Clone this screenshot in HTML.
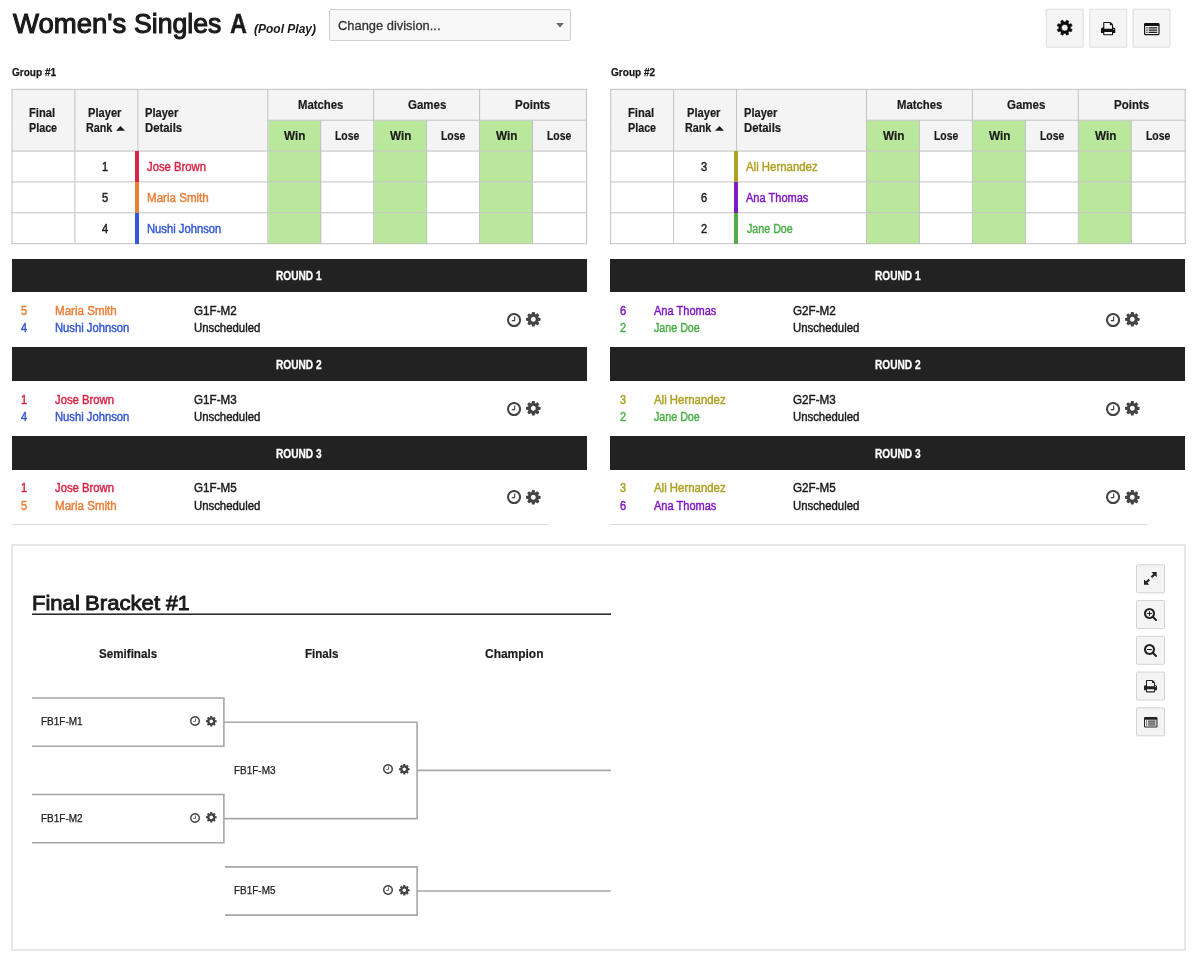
<!DOCTYPE html>
<html lang="en"><head><meta charset="utf-8"><title>Women's Singles A (Pool Play)</title>
<style>
*{box-sizing:border-box;margin:0;padding:0}
html,body{width:1200px;height:963px;background:#fff;overflow:hidden}
body{position:relative;font-family:"Liberation Sans",sans-serif;color:#1b1b1b;font-size:12px}
h1,h2{font-size:inherit;font-weight:inherit}
.ic{position:absolute;display:block;overflow:visible}
.t{position:absolute;white-space:nowrap;transform-origin:0 0;line-height:1;display:block}
.bx{position:absolute;display:block}
.btn{position:absolute;background:#f4f4f4;border:1px solid #e3e3e3;border-radius:2px}
.grid{position:absolute;border-collapse:collapse;table-layout:fixed;transform-origin:0 0}
.grid td,.grid th{border:1px solid #c2c2c2;height:31px;padding:0}
.grid th{background:#f4f4f4}
.grid .g{background:#b9e89c}
.bar{position:absolute;height:33.4px;background:#222;width:575px}
.ln{position:absolute;background:#aaa}
</style></head><body>
<h1><span class="t" style="left:13.12px;top:10px;transform:scaleX(0.9902);font-size:27.8px;-webkit-text-stroke:1.1px;color:#1a1a1a">Women's</span>
<span class="t" style="left:134.3px;top:10px;transform:scaleX(0.9576);font-size:27.8px;-webkit-text-stroke:1.1px;color:#1a1a1a">Singles</span>
<span class="t" style="left:229.99px;top:9px;transform:scaleX(0.8256);font-size:28.4px;font-weight:bold;-webkit-text-stroke:0.4px;color:#1a1a1a">A</span>
</h1><span class="t" style="left:253.53px;top:23px;transform:scaleX(0.9992);font-size:12px;font-weight:bold;font-style:italic;color:#1a1a1a">(Pool Play)</span>
<div class="bx" style="left:329px;top:8.7px;width:241.5px;height:32px;border:1px solid #cfcfcf;border-radius:2px;background:#f8f8f8"></div>
<span class="t" style="left:337.72px;top:19px;transform:scaleX(0.9551);font-size:13.5px;color:#333;-webkit-text-stroke:0.3px">Change division...</span>
<svg class="ic" style="left:556.2px;top:23.2px;width:8px;height:4.5px" viewBox="0 0 8 4.5"><path fill="#6a6a6a" d="M0 0h8L4 4.5z"/></svg>
<div class="btn" style="left:1046px;top:9px;width:38px;height:38.6px;transform:translate(-0.3px,-0.3px);border-radius:1px;border-color:#dcdcdc;background:#f5f5f5"></div>
<div class="btn" style="left:1089px;top:9px;width:38px;height:38.6px;transform:translate(0.3px,-0.3px);border-radius:1px;border-color:#dcdcdc;background:#f5f5f5"></div>
<div class="btn" style="left:1133px;top:9px;width:38px;height:38.6px;transform:translate(-0.5px,-0.3px);border-radius:1px;border-color:#dcdcdc;background:#f5f5f5"></div>
<svg class="ic" style="left:1056.1px;top:19.1px;width:17.4px;height:17.4px" viewBox="-8.7 -8.7 17.4 17.4"><path fill="#0c0c0c" fill-rule="evenodd" stroke="#0c0c0c" stroke-width="0.6" stroke-linejoin="round" d="M0.74 -5.65L1.86 -7.47L3.97 -6.6L3.47 -4.52L4.52 -3.47L6.6 -3.97L7.47 -1.86L5.65 -0.74L5.65 0.74L7.47 1.86L6.6 3.97L4.52 3.47L3.47 4.52L3.97 6.6L1.86 7.47L0.74 5.65L-0.74 5.65L-1.86 7.47L-3.97 6.6L-3.47 4.52L-4.52 3.47L-6.6 3.97L-7.47 1.86L-5.65 0.74L-5.65 -0.74L-7.47 -1.86L-6.6 -3.97L-4.52 -3.47L-3.47 -4.52L-3.97 -6.6L-1.86 -7.47L-0.74 -5.65ZM3.31 0A3.31 3.31 0 1 0 -3.31 0A3.31 3.31 0 1 0 3.31 0Z"/></svg>
<svg class="ic" style="left:1101px;top:21.6px;width:14.3px;height:13.3px" viewBox="0 0 1664 1536" preserveAspectRatio="none"><path fill="#111" d="M384 1408h896v-256h-896v256zm0-640h896v-384h-160q-40 0-68-28t-28-68v-160h-640v640zm1152 64q0-26-19-45t-45-19-45 19-19 45 19 45 45 19 45-19 19-45zm128 0v416q0 13-9.5 22.5t-22.5 9.5h-224v160q0 40-28 68t-68 28h-960q-40 0-68-28t-28-68v-160h-224q-13 0-22.5-9.5t-9.5-22.5v-416q0-79 56.5-135.5t135.5-56.5h64v-544q0-40 28-68t68-28h672q40 0 88 20t76 48l152 152q28 28 48 76t20 88v256h64q79 0 135.5 56.5t56.5 135.5z"/></svg>
<svg class="ic" style="left:1144px;top:22.6px;width:15.6px;height:12.3px" viewBox="0 0 16 12" preserveAspectRatio="none"><path fill="#111" fill-rule="evenodd" d="M1.4 0h13.2A1.4 1.4 0 0 1 16 1.4v9.2a1.4 1.4 0 0 1-1.4 1.4H1.4A1.4 1.4 0 0 1 0 10.6V1.4A1.4 1.4 0 0 1 1.4 0zM1.2 3v7.4a.4.4 0 0 0 .4.4h12.8a.4.4 0 0 0 .4-.4V3z"/><rect fill="#111" x="2.4" y="4.1" width="1.3" height="1.2"/><rect fill="#111" x="4.8" y="4.1" width="8.8" height="1.2"/><rect fill="#111" x="2.4" y="6.3" width="1.3" height="1.2"/><rect fill="#111" x="4.8" y="6.3" width="8.8" height="1.2"/><rect fill="#111" x="2.4" y="8.5" width="1.3" height="1.2"/><rect fill="#111" x="4.8" y="8.5" width="8.8" height="1.2"/></svg>
<span class="t" style="left:12.06px;top:67px;transform:scaleX(0.8969);font-size:11.2px;font-weight:bold;color:#1a1a1a;-webkit-text-stroke:0.25px">Group #1</span>
<table class="grid" style="left:12px;top:89px;width:575px;transform:translate(-0.5px,-0.15px) scale(0.9991,0.9955)"><colgroup><col style="width:63px"><col style="width:63px"><col style="width:130px"><col style="width:53px"><col style="width:53px"><col style="width:53px"><col style="width:53px"><col style="width:53px"><col style="width:54px"></colgroup>
<thead><tr><th rowspan="2"></th><th rowspan="2"></th><th rowspan="2"></th><th colspan="2"></th><th colspan="2"></th><th colspan="2"></th></tr>
<tr><th class="g"></th><th></th><th class="g"></th><th></th><th class="g"></th><th></th></tr></thead>
<tbody><tr><td></td><td></td><td></td><td class="g"></td><td></td><td class="g"></td><td></td><td class="g"></td><td></td></tr>
<tr><td></td><td></td><td></td><td class="g"></td><td></td><td class="g"></td><td></td><td class="g"></td><td></td></tr>
<tr><td></td><td></td><td></td><td class="g"></td><td></td><td class="g"></td><td></td><td class="g"></td><td></td></tr>
</tbody></table>
<span class="t" style="left:29.33px;top:107px;transform:scaleX(0.8941);font-size:12.5px;font-weight:bold;-webkit-text-stroke:0.2px">Final</span>
<span class="t" style="left:29.35px;top:122px;transform:scaleX(0.8601);font-size:12.5px;font-weight:bold;-webkit-text-stroke:0.2px">Place</span>
<span class="t" style="left:87.93px;top:107px;transform:scaleX(0.8901);font-size:12.5px;font-weight:bold;-webkit-text-stroke:0.2px">Player</span>
<span class="t" style="left:85.95px;top:122px;transform:scaleX(0.86);font-size:12.5px;font-weight:bold;-webkit-text-stroke:0.2px">Rank</span>
<svg class="ic" style="left:116.2px;top:126px;width:9px;height:4.7px" viewBox="0 0 9 4.7"><path fill="#1b1b1b" d="M0 4.7h9L4.5 0z"/></svg>
<span class="t" style="left:145.43px;top:107px;transform:scaleX(0.8874);font-size:12.5px;font-weight:bold;-webkit-text-stroke:0.2px">Player</span>
<span class="t" style="left:145.42px;top:122px;transform:scaleX(0.9053);font-size:12.5px;font-weight:bold;-webkit-text-stroke:0.2px">Details</span>
<span class="t" style="left:298.02px;top:99px;transform:scaleX(0.9084);font-size:12.5px;font-weight:bold;-webkit-text-stroke:0.2px">Matches</span>
<span class="t" style="left:284.12px;top:130px;transform:scaleX(0.9393);font-size:12.5px;font-weight:bold;-webkit-text-stroke:0.2px">Win</span>
<span class="t" style="left:335.18px;top:130px;transform:scaleX(0.832);font-size:12.5px;font-weight:bold;-webkit-text-stroke:0.2px">Lose</span>
<span class="t" style="left:407.85px;top:99px;transform:scaleX(0.92);font-size:12.5px;font-weight:bold;-webkit-text-stroke:0.2px">Games</span>
<span class="t" style="left:390.12px;top:130px;transform:scaleX(0.9393);font-size:12.5px;font-weight:bold;-webkit-text-stroke:0.2px">Win</span>
<span class="t" style="left:441.18px;top:130px;transform:scaleX(0.832);font-size:12.5px;font-weight:bold;-webkit-text-stroke:0.2px">Lose</span>
<span class="t" style="left:515.29px;top:99px;transform:scaleX(0.92);font-size:12.5px;font-weight:bold;-webkit-text-stroke:0.2px">Points</span>
<span class="t" style="left:496.12px;top:130px;transform:scaleX(0.9393);font-size:12.5px;font-weight:bold;-webkit-text-stroke:0.2px">Win</span>
<span class="t" style="left:547.18px;top:130px;transform:scaleX(0.832);font-size:12.5px;font-weight:bold;-webkit-text-stroke:0.2px">Lose</span>
<div class="bx" style="left:135.2px;top:150.9px;width:4.3px;height:31px;background:#d92648"></div>
<span class="t" style="left:102.1px;top:162px;transform:scaleX(0.93);font-size:11.9px;-webkit-text-stroke:0.45px;color:#222">1</span>
<span class="t" style="left:147.3px;top:161px;transform:scaleX(0.9194);font-size:12.3px;-webkit-text-stroke:0.45px;color:#d92648">Jose Brown</span>
<div class="bx" style="left:135.2px;top:181.76px;width:4.3px;height:31px;background:#e8813a"></div>
<span class="t" style="left:102.22px;top:193px;transform:scaleX(0.93);font-size:11.9px;-webkit-text-stroke:0.45px;color:#222">5</span>
<span class="t" style="left:147.19px;top:192px;transform:scaleX(0.9416);font-size:12.3px;-webkit-text-stroke:0.45px;color:#e8813a">Maria Smith</span>
<div class="bx" style="left:135.2px;top:212.62px;width:4.3px;height:31.2px;background:#3558d6"></div>
<span class="t" style="left:102.28px;top:224px;transform:scaleX(0.93);font-size:11.9px;-webkit-text-stroke:0.45px;color:#222">4</span>
<span class="t" style="left:147.22px;top:223px;transform:scaleX(0.9125);font-size:12.3px;-webkit-text-stroke:0.45px;color:#3558d6">Nushi Johnson</span>
<div class="bar" style="left:12px;top:258.6px"></div>
<span class="t" style="left:275.87px;top:271px;transform:scaleX(0.8512);font-size:11.9px;font-weight:bold;color:#fff;-webkit-text-stroke:0.3px">ROUND 1</span>
<span class="t" style="left:20.82px;top:306px;transform:scaleX(0.93);font-size:11.9px;-webkit-text-stroke:0.45px;color:#e8813a">5</span>
<span class="t" style="left:54.99px;top:305px;transform:scaleX(0.9416);font-size:12.3px;-webkit-text-stroke:0.45px;color:#e8813a">Maria Smith</span>
<span class="t" style="left:20.88px;top:323px;transform:scaleX(0.93);font-size:11.9px;-webkit-text-stroke:0.45px;color:#3558d6">4</span>
<span class="t" style="left:55.02px;top:322px;transform:scaleX(0.9125);font-size:12.3px;-webkit-text-stroke:0.45px;color:#3558d6">Nushi Johnson</span>
<span class="t" style="left:194.45px;top:305px;transform:scaleX(0.9465);font-size:12.3px;-webkit-text-stroke:0.45px">G1F-M2</span>
<span class="t" style="left:194.21px;top:322px;transform:scaleX(0.9234);font-size:12.3px;-webkit-text-stroke:0.45px">Unscheduled</span>
<svg class="ic" style="left:507px;top:312.7px;width:14.1px;height:14.1px" viewBox="0 0 1536 1536" preserveAspectRatio="none"><path fill="#444" d="M896 416v448q0 14-9 23t-23 9h-320q-14 0-23-9t-9-23v-64q0-14 9-23t23-9h224v-352q0-14 9-23t23-9h64q14 0 23 9t9 23zm416 352q0-148-73-273t-198-198-273-73-273 73-198 198-73 273 73 273 198 198 273 73 273-73 198-198 73-273zm224 0q0 209-103 385.5t-279.5 279.5-385.5 103-385.5-103-279.5-279.5-103-385.5 103-385.5 279.5-279.5 385.5-103 385.5 103 279.5 279.5 103 385.5z"/></svg>
<svg class="ic" style="left:526px;top:312.45px;width:14.6px;height:14.6px" viewBox="0 -128 1536 1536" preserveAspectRatio="none"><path fill="#444" d="M1024 640q0-106-75-181t-181-75-181 75-75 181 75 181 181 75 181-75 75-181zm512-109v222q0 12-8 23t-20 13l-185 28q-19 54-39 91 35 50 107 138 10 12 10 25t-9 23q-27 37-99 108t-94 71q-12 0-26-9l-138-108q-44 23-91 38-16 136-29 186-7 28-36 28h-222q-14 0-24.5-8.5t-11.5-21.5l-28-184q-49-16-90-37l-141 107q-10 9-25 9-14 0-25-11-126-114-165-168-7-10-7-23 0-12 8-23 15-21 51-66.5t54-70.5q-27-50-41-99l-183-27q-13-2-21-12.5t-8-23.5v-222q0-12 8-23t19-13l186-28q14-46 39-92-40-57-107-138-10-12-10-24 0-10 9-23 26-36 98.5-107.5t94.5-71.5q13 0 26 10l138 107q44-23 91-38 16-136 29-186 7-28 36-28h222q14 0 24.5 8.5t11.5 21.5l28 184q49 16 90 37l142-107q9-9 24-9 13 0 25 10 129 119 165 170 7 8 7 22 0 12-8 23-15 21-51 66.5t-54 70.5q26 50 41 98l183 28q13 2 21 12.5t8 23.5z"/></svg>
<div class="bar" style="left:12px;top:347.4px"></div>
<span class="t" style="left:275.87px;top:360px;transform:scaleX(0.8532);font-size:11.9px;font-weight:bold;color:#fff;-webkit-text-stroke:0.3px">ROUND 2</span>
<span class="t" style="left:20.7px;top:395px;transform:scaleX(0.93);font-size:11.9px;-webkit-text-stroke:0.45px;color:#d92648">1</span>
<span class="t" style="left:55.1px;top:394px;transform:scaleX(0.9194);font-size:12.3px;-webkit-text-stroke:0.45px;color:#d92648">Jose Brown</span>
<span class="t" style="left:20.88px;top:412px;transform:scaleX(0.93);font-size:11.9px;-webkit-text-stroke:0.45px;color:#3558d6">4</span>
<span class="t" style="left:55.02px;top:411px;transform:scaleX(0.9125);font-size:12.3px;-webkit-text-stroke:0.45px;color:#3558d6">Nushi Johnson</span>
<span class="t" style="left:194.45px;top:394px;transform:scaleX(0.9465);font-size:12.3px;-webkit-text-stroke:0.45px">G1F-M3</span>
<span class="t" style="left:194.21px;top:411px;transform:scaleX(0.9234);font-size:12.3px;-webkit-text-stroke:0.45px">Unscheduled</span>
<svg class="ic" style="left:507px;top:401.5px;width:14.1px;height:14.1px" viewBox="0 0 1536 1536" preserveAspectRatio="none"><path fill="#444" d="M896 416v448q0 14-9 23t-23 9h-320q-14 0-23-9t-9-23v-64q0-14 9-23t23-9h224v-352q0-14 9-23t23-9h64q14 0 23 9t9 23zm416 352q0-148-73-273t-198-198-273-73-273 73-198 198-73 273 73 273 198 198 273 73 273-73 198-198 73-273zm224 0q0 209-103 385.5t-279.5 279.5-385.5 103-385.5-103-279.5-279.5-103-385.5 103-385.5 279.5-279.5 385.5-103 385.5 103 279.5 279.5 103 385.5z"/></svg>
<svg class="ic" style="left:526px;top:401.25px;width:14.6px;height:14.6px" viewBox="0 -128 1536 1536" preserveAspectRatio="none"><path fill="#444" d="M1024 640q0-106-75-181t-181-75-181 75-75 181 75 181 181 75 181-75 75-181zm512-109v222q0 12-8 23t-20 13l-185 28q-19 54-39 91 35 50 107 138 10 12 10 25t-9 23q-27 37-99 108t-94 71q-12 0-26-9l-138-108q-44 23-91 38-16 136-29 186-7 28-36 28h-222q-14 0-24.5-8.5t-11.5-21.5l-28-184q-49-16-90-37l-141 107q-10 9-25 9-14 0-25-11-126-114-165-168-7-10-7-23 0-12 8-23 15-21 51-66.5t54-70.5q-27-50-41-99l-183-27q-13-2-21-12.5t-8-23.5v-222q0-12 8-23t19-13l186-28q14-46 39-92-40-57-107-138-10-12-10-24 0-10 9-23 26-36 98.5-107.5t94.5-71.5q13 0 26 10l138 107q44-23 91-38 16-136 29-186 7-28 36-28h222q14 0 24.5 8.5t11.5 21.5l28 184q49 16 90 37l142-107q9-9 24-9 13 0 25 10 129 119 165 170 7 8 7 22 0 12-8 23-15 21-51 66.5t-54 70.5q26 50 41 98l183 28q13 2 21 12.5t8 23.5z"/></svg>
<div class="bar" style="left:12px;top:436.2px"></div>
<span class="t" style="left:275.87px;top:449px;transform:scaleX(0.8532);font-size:11.9px;font-weight:bold;color:#fff;-webkit-text-stroke:0.3px">ROUND 3</span>
<span class="t" style="left:20.7px;top:483px;transform:scaleX(0.93);font-size:11.9px;-webkit-text-stroke:0.45px;color:#d92648">1</span>
<span class="t" style="left:55.1px;top:482px;transform:scaleX(0.9194);font-size:12.3px;-webkit-text-stroke:0.45px;color:#d92648">Jose Brown</span>
<span class="t" style="left:20.82px;top:501px;transform:scaleX(0.93);font-size:11.9px;-webkit-text-stroke:0.45px;color:#e8813a">5</span>
<span class="t" style="left:54.99px;top:500px;transform:scaleX(0.9416);font-size:12.3px;-webkit-text-stroke:0.45px;color:#e8813a">Maria Smith</span>
<span class="t" style="left:194.45px;top:482px;transform:scaleX(0.9465);font-size:12.3px;-webkit-text-stroke:0.45px">G1F-M5</span>
<span class="t" style="left:194.21px;top:500px;transform:scaleX(0.9234);font-size:12.3px;-webkit-text-stroke:0.45px">Unscheduled</span>
<svg class="ic" style="left:507px;top:490.3px;width:14.1px;height:14.1px" viewBox="0 0 1536 1536" preserveAspectRatio="none"><path fill="#444" d="M896 416v448q0 14-9 23t-23 9h-320q-14 0-23-9t-9-23v-64q0-14 9-23t23-9h224v-352q0-14 9-23t23-9h64q14 0 23 9t9 23zm416 352q0-148-73-273t-198-198-273-73-273 73-198 198-73 273 73 273 198 198 273 73 273-73 198-198 73-273zm224 0q0 209-103 385.5t-279.5 279.5-385.5 103-385.5-103-279.5-279.5-103-385.5 103-385.5 279.5-279.5 385.5-103 385.5 103 279.5 279.5 103 385.5z"/></svg>
<svg class="ic" style="left:526px;top:490.05px;width:14.6px;height:14.6px" viewBox="0 -128 1536 1536" preserveAspectRatio="none"><path fill="#444" d="M1024 640q0-106-75-181t-181-75-181 75-75 181 75 181 181 75 181-75 75-181zm512-109v222q0 12-8 23t-20 13l-185 28q-19 54-39 91 35 50 107 138 10 12 10 25t-9 23q-27 37-99 108t-94 71q-12 0-26-9l-138-108q-44 23-91 38-16 136-29 186-7 28-36 28h-222q-14 0-24.5-8.5t-11.5-21.5l-28-184q-49-16-90-37l-141 107q-10 9-25 9-14 0-25-11-126-114-165-168-7-10-7-23 0-12 8-23 15-21 51-66.5t54-70.5q-27-50-41-99l-183-27q-13-2-21-12.5t-8-23.5v-222q0-12 8-23t19-13l186-28q14-46 39-92-40-57-107-138-10-12-10-24 0-10 9-23 26-36 98.5-107.5t94.5-71.5q13 0 26 10l138 107q44-23 91-38 16-136 29-186 7-28 36-28h222q14 0 24.5 8.5t11.5 21.5l28 184q49 16 90 37l142-107q9-9 24-9 13 0 25 10 129 119 165 170 7 8 7 22 0 12-8 23-15 21-51 66.5t-54 70.5q26 50 41 98l183 28q13 2 21 12.5t8 23.5z"/></svg>
<div class="bx" style="left:12px;top:524px;width:536.5px;height:1px;background:#dcdcdc"></div>
<span class="t" style="left:611.06px;top:67px;transform:scaleX(0.8992);font-size:11.2px;font-weight:bold;color:#1a1a1a;-webkit-text-stroke:0.25px">Group #2</span>
<table class="grid" style="left:611px;top:89px;width:575px;transform:translate(-0.8px,-0.15px) scale(0.9991,0.9955)"><colgroup><col style="width:63px"><col style="width:63px"><col style="width:130px"><col style="width:53px"><col style="width:53px"><col style="width:53px"><col style="width:53px"><col style="width:53px"><col style="width:54px"></colgroup>
<thead><tr><th rowspan="2"></th><th rowspan="2"></th><th rowspan="2"></th><th colspan="2"></th><th colspan="2"></th><th colspan="2"></th></tr>
<tr><th class="g"></th><th></th><th class="g"></th><th></th><th class="g"></th><th></th></tr></thead>
<tbody><tr><td></td><td></td><td></td><td class="g"></td><td></td><td class="g"></td><td></td><td class="g"></td><td></td></tr>
<tr><td></td><td></td><td></td><td class="g"></td><td></td><td class="g"></td><td></td><td class="g"></td><td></td></tr>
<tr><td></td><td></td><td></td><td class="g"></td><td></td><td class="g"></td><td></td><td class="g"></td><td></td></tr>
</tbody></table>
<span class="t" style="left:628.33px;top:107px;transform:scaleX(0.8941);font-size:12.5px;font-weight:bold;-webkit-text-stroke:0.2px">Final</span>
<span class="t" style="left:628.35px;top:122px;transform:scaleX(0.8601);font-size:12.5px;font-weight:bold;-webkit-text-stroke:0.2px">Place</span>
<span class="t" style="left:686.93px;top:107px;transform:scaleX(0.8901);font-size:12.5px;font-weight:bold;-webkit-text-stroke:0.2px">Player</span>
<span class="t" style="left:684.96px;top:122px;transform:scaleX(0.86);font-size:12.5px;font-weight:bold;-webkit-text-stroke:0.2px">Rank</span>
<svg class="ic" style="left:715.2px;top:126px;width:9px;height:4.7px" viewBox="0 0 9 4.7"><path fill="#1b1b1b" d="M0 4.7h9L4.5 0z"/></svg>
<span class="t" style="left:744.43px;top:107px;transform:scaleX(0.8874);font-size:12.5px;font-weight:bold;-webkit-text-stroke:0.2px">Player</span>
<span class="t" style="left:744.42px;top:122px;transform:scaleX(0.9053);font-size:12.5px;font-weight:bold;-webkit-text-stroke:0.2px">Details</span>
<span class="t" style="left:897.02px;top:99px;transform:scaleX(0.9084);font-size:12.5px;font-weight:bold;-webkit-text-stroke:0.2px">Matches</span>
<span class="t" style="left:883.12px;top:130px;transform:scaleX(0.9393);font-size:12.5px;font-weight:bold;-webkit-text-stroke:0.2px">Win</span>
<span class="t" style="left:934.18px;top:130px;transform:scaleX(0.832);font-size:12.5px;font-weight:bold;-webkit-text-stroke:0.2px">Lose</span>
<span class="t" style="left:1006.85px;top:99px;transform:scaleX(0.92);font-size:12.5px;font-weight:bold;-webkit-text-stroke:0.2px">Games</span>
<span class="t" style="left:989.12px;top:130px;transform:scaleX(0.9393);font-size:12.5px;font-weight:bold;-webkit-text-stroke:0.2px">Win</span>
<span class="t" style="left:1040.18px;top:130px;transform:scaleX(0.832);font-size:12.5px;font-weight:bold;-webkit-text-stroke:0.2px">Lose</span>
<span class="t" style="left:1114.29px;top:99px;transform:scaleX(0.92);font-size:12.5px;font-weight:bold;-webkit-text-stroke:0.2px">Points</span>
<span class="t" style="left:1095.12px;top:130px;transform:scaleX(0.9393);font-size:12.5px;font-weight:bold;-webkit-text-stroke:0.2px">Win</span>
<span class="t" style="left:1146.18px;top:130px;transform:scaleX(0.832);font-size:12.5px;font-weight:bold;-webkit-text-stroke:0.2px">Lose</span>
<div class="bx" style="left:734.2px;top:150.9px;width:4.3px;height:31px;background:#b0a026"></div>
<span class="t" style="left:701.22px;top:162px;transform:scaleX(0.93);font-size:11.9px;-webkit-text-stroke:0.45px;color:#222">3</span>
<span class="t" style="left:746.23px;top:161px;transform:scaleX(0.9271);font-size:12.3px;-webkit-text-stroke:0.45px;color:#b0a026">Ali Hernandez</span>
<div class="bx" style="left:734.2px;top:181.76px;width:4.3px;height:31px;background:#8019c6"></div>
<span class="t" style="left:701.16px;top:193px;transform:scaleX(0.93);font-size:11.9px;-webkit-text-stroke:0.45px;color:#222">6</span>
<span class="t" style="left:746.22px;top:192px;transform:scaleX(0.8978);font-size:12.3px;-webkit-text-stroke:0.45px;color:#8019c6">Ana Thomas</span>
<div class="bx" style="left:734.2px;top:212.62px;width:4.3px;height:31.2px;background:#4dae4a"></div>
<span class="t" style="left:701.22px;top:224px;transform:scaleX(0.93);font-size:11.9px;-webkit-text-stroke:0.45px;color:#222">2</span>
<span class="t" style="left:746.6px;top:223px;transform:scaleX(0.8687);font-size:12.3px;-webkit-text-stroke:0.45px;color:#4dae4a">Jane Doe</span>
<div class="bar" style="left:610px;top:258.6px"></div>
<span class="t" style="left:874.87px;top:271px;transform:scaleX(0.8512);font-size:11.9px;font-weight:bold;color:#fff;-webkit-text-stroke:0.3px">ROUND 1</span>
<span class="t" style="left:619.76px;top:306px;transform:scaleX(0.93);font-size:11.9px;-webkit-text-stroke:0.45px;color:#8019c6">6</span>
<span class="t" style="left:654.02px;top:305px;transform:scaleX(0.8978);font-size:12.3px;-webkit-text-stroke:0.45px;color:#8019c6">Ana Thomas</span>
<span class="t" style="left:619.82px;top:323px;transform:scaleX(0.93);font-size:11.9px;-webkit-text-stroke:0.45px;color:#4dae4a">2</span>
<span class="t" style="left:654.4px;top:322px;transform:scaleX(0.8687);font-size:12.3px;-webkit-text-stroke:0.45px;color:#4dae4a">Jane Doe</span>
<span class="t" style="left:793.45px;top:305px;transform:scaleX(0.9465);font-size:12.3px;-webkit-text-stroke:0.45px">G2F-M2</span>
<span class="t" style="left:793.21px;top:322px;transform:scaleX(0.9234);font-size:12.3px;-webkit-text-stroke:0.45px">Unscheduled</span>
<svg class="ic" style="left:1106px;top:312.7px;width:14.1px;height:14.1px" viewBox="0 0 1536 1536" preserveAspectRatio="none"><path fill="#444" d="M896 416v448q0 14-9 23t-23 9h-320q-14 0-23-9t-9-23v-64q0-14 9-23t23-9h224v-352q0-14 9-23t23-9h64q14 0 23 9t9 23zm416 352q0-148-73-273t-198-198-273-73-273 73-198 198-73 273 73 273 198 198 273 73 273-73 198-198 73-273zm224 0q0 209-103 385.5t-279.5 279.5-385.5 103-385.5-103-279.5-279.5-103-385.5 103-385.5 279.5-279.5 385.5-103 385.5 103 279.5 279.5 103 385.5z"/></svg>
<svg class="ic" style="left:1125px;top:312.45px;width:14.6px;height:14.6px" viewBox="0 -128 1536 1536" preserveAspectRatio="none"><path fill="#444" d="M1024 640q0-106-75-181t-181-75-181 75-75 181 75 181 181 75 181-75 75-181zm512-109v222q0 12-8 23t-20 13l-185 28q-19 54-39 91 35 50 107 138 10 12 10 25t-9 23q-27 37-99 108t-94 71q-12 0-26-9l-138-108q-44 23-91 38-16 136-29 186-7 28-36 28h-222q-14 0-24.5-8.5t-11.5-21.5l-28-184q-49-16-90-37l-141 107q-10 9-25 9-14 0-25-11-126-114-165-168-7-10-7-23 0-12 8-23 15-21 51-66.5t54-70.5q-27-50-41-99l-183-27q-13-2-21-12.5t-8-23.5v-222q0-12 8-23t19-13l186-28q14-46 39-92-40-57-107-138-10-12-10-24 0-10 9-23 26-36 98.5-107.5t94.5-71.5q13 0 26 10l138 107q44-23 91-38 16-136 29-186 7-28 36-28h222q14 0 24.5 8.5t11.5 21.5l28 184q49 16 90 37l142-107q9-9 24-9 13 0 25 10 129 119 165 170 7 8 7 22 0 12-8 23-15 21-51 66.5t-54 70.5q26 50 41 98l183 28q13 2 21 12.5t8 23.5z"/></svg>
<div class="bar" style="left:610px;top:347.4px"></div>
<span class="t" style="left:874.87px;top:360px;transform:scaleX(0.8532);font-size:11.9px;font-weight:bold;color:#fff;-webkit-text-stroke:0.3px">ROUND 2</span>
<span class="t" style="left:619.82px;top:395px;transform:scaleX(0.93);font-size:11.9px;-webkit-text-stroke:0.45px;color:#b0a026">3</span>
<span class="t" style="left:654.03px;top:394px;transform:scaleX(0.9271);font-size:12.3px;-webkit-text-stroke:0.45px;color:#b0a026">Ali Hernandez</span>
<span class="t" style="left:619.82px;top:412px;transform:scaleX(0.93);font-size:11.9px;-webkit-text-stroke:0.45px;color:#4dae4a">2</span>
<span class="t" style="left:654.4px;top:411px;transform:scaleX(0.8687);font-size:12.3px;-webkit-text-stroke:0.45px;color:#4dae4a">Jane Doe</span>
<span class="t" style="left:793.45px;top:394px;transform:scaleX(0.9465);font-size:12.3px;-webkit-text-stroke:0.45px">G2F-M3</span>
<span class="t" style="left:793.21px;top:411px;transform:scaleX(0.9234);font-size:12.3px;-webkit-text-stroke:0.45px">Unscheduled</span>
<svg class="ic" style="left:1106px;top:401.5px;width:14.1px;height:14.1px" viewBox="0 0 1536 1536" preserveAspectRatio="none"><path fill="#444" d="M896 416v448q0 14-9 23t-23 9h-320q-14 0-23-9t-9-23v-64q0-14 9-23t23-9h224v-352q0-14 9-23t23-9h64q14 0 23 9t9 23zm416 352q0-148-73-273t-198-198-273-73-273 73-198 198-73 273 73 273 198 198 273 73 273-73 198-198 73-273zm224 0q0 209-103 385.5t-279.5 279.5-385.5 103-385.5-103-279.5-279.5-103-385.5 103-385.5 279.5-279.5 385.5-103 385.5 103 279.5 279.5 103 385.5z"/></svg>
<svg class="ic" style="left:1125px;top:401.25px;width:14.6px;height:14.6px" viewBox="0 -128 1536 1536" preserveAspectRatio="none"><path fill="#444" d="M1024 640q0-106-75-181t-181-75-181 75-75 181 75 181 181 75 181-75 75-181zm512-109v222q0 12-8 23t-20 13l-185 28q-19 54-39 91 35 50 107 138 10 12 10 25t-9 23q-27 37-99 108t-94 71q-12 0-26-9l-138-108q-44 23-91 38-16 136-29 186-7 28-36 28h-222q-14 0-24.5-8.5t-11.5-21.5l-28-184q-49-16-90-37l-141 107q-10 9-25 9-14 0-25-11-126-114-165-168-7-10-7-23 0-12 8-23 15-21 51-66.5t54-70.5q-27-50-41-99l-183-27q-13-2-21-12.5t-8-23.5v-222q0-12 8-23t19-13l186-28q14-46 39-92-40-57-107-138-10-12-10-24 0-10 9-23 26-36 98.5-107.5t94.5-71.5q13 0 26 10l138 107q44-23 91-38 16-136 29-186 7-28 36-28h222q14 0 24.5 8.5t11.5 21.5l28 184q49 16 90 37l142-107q9-9 24-9 13 0 25 10 129 119 165 170 7 8 7 22 0 12-8 23-15 21-51 66.5t-54 70.5q26 50 41 98l183 28q13 2 21 12.5t8 23.5z"/></svg>
<div class="bar" style="left:610px;top:436.2px"></div>
<span class="t" style="left:874.87px;top:449px;transform:scaleX(0.8532);font-size:11.9px;font-weight:bold;color:#fff;-webkit-text-stroke:0.3px">ROUND 3</span>
<span class="t" style="left:619.82px;top:483px;transform:scaleX(0.93);font-size:11.9px;-webkit-text-stroke:0.45px;color:#b0a026">3</span>
<span class="t" style="left:654.03px;top:482px;transform:scaleX(0.9271);font-size:12.3px;-webkit-text-stroke:0.45px;color:#b0a026">Ali Hernandez</span>
<span class="t" style="left:619.76px;top:501px;transform:scaleX(0.93);font-size:11.9px;-webkit-text-stroke:0.45px;color:#8019c6">6</span>
<span class="t" style="left:654.02px;top:500px;transform:scaleX(0.8978);font-size:12.3px;-webkit-text-stroke:0.45px;color:#8019c6">Ana Thomas</span>
<span class="t" style="left:793.45px;top:482px;transform:scaleX(0.9465);font-size:12.3px;-webkit-text-stroke:0.45px">G2F-M5</span>
<span class="t" style="left:793.21px;top:500px;transform:scaleX(0.9234);font-size:12.3px;-webkit-text-stroke:0.45px">Unscheduled</span>
<svg class="ic" style="left:1106px;top:490.3px;width:14.1px;height:14.1px" viewBox="0 0 1536 1536" preserveAspectRatio="none"><path fill="#444" d="M896 416v448q0 14-9 23t-23 9h-320q-14 0-23-9t-9-23v-64q0-14 9-23t23-9h224v-352q0-14 9-23t23-9h64q14 0 23 9t9 23zm416 352q0-148-73-273t-198-198-273-73-273 73-198 198-73 273 73 273 198 198 273 73 273-73 198-198 73-273zm224 0q0 209-103 385.5t-279.5 279.5-385.5 103-385.5-103-279.5-279.5-103-385.5 103-385.5 279.5-279.5 385.5-103 385.5 103 279.5 279.5 103 385.5z"/></svg>
<svg class="ic" style="left:1125px;top:490.05px;width:14.6px;height:14.6px" viewBox="0 -128 1536 1536" preserveAspectRatio="none"><path fill="#444" d="M1024 640q0-106-75-181t-181-75-181 75-75 181 75 181 181 75 181-75 75-181zm512-109v222q0 12-8 23t-20 13l-185 28q-19 54-39 91 35 50 107 138 10 12 10 25t-9 23q-27 37-99 108t-94 71q-12 0-26-9l-138-108q-44 23-91 38-16 136-29 186-7 28-36 28h-222q-14 0-24.5-8.5t-11.5-21.5l-28-184q-49-16-90-37l-141 107q-10 9-25 9-14 0-25-11-126-114-165-168-7-10-7-23 0-12 8-23 15-21 51-66.5t54-70.5q-27-50-41-99l-183-27q-13-2-21-12.5t-8-23.5v-222q0-12 8-23t19-13l186-28q14-46 39-92-40-57-107-138-10-12-10-24 0-10 9-23 26-36 98.5-107.5t94.5-71.5q13 0 26 10l138 107q44-23 91-38 16-136 29-186 7-28 36-28h222q14 0 24.5 8.5t11.5 21.5l28 184q49 16 90 37l142-107q9-9 24-9 13 0 25 10 129 119 165 170 7 8 7 22 0 12-8 23-15 21-51 66.5t-54 70.5q26 50 41 98l183 28q13 2 21 12.5t8 23.5z"/></svg>
<div class="bx" style="left:610px;top:524px;width:536.5px;height:1px;background:#dcdcdc"></div>
<div class="bx" style="left:12px;top:545px;width:1174px;height:406px;border:1px solid #d0d0d0;transform:translate(-0.5px,-0.5px)"></div>
<h2><span class="t" style="left:31.99px;top:592px;transform:scaleX(1.0497);font-size:21px;-webkit-text-stroke:0.9px;color:#1a1a1a">Final</span>
<span class="t" style="left:85.38px;top:592px;transform:scaleX(1.0548);font-size:21px;-webkit-text-stroke:0.9px;color:#1a1a1a">Bracket</span>
<span class="t" style="left:166.18px;top:592px;transform:scaleX(1.0119);font-size:21px;-webkit-text-stroke:0.9px;color:#1a1a1a">#1</span>
</h2><span class="t" style="left:99.27px;top:648px;transform:scaleX(0.9293);font-size:12.5px;font-weight:bold;-webkit-text-stroke:0.2px">Semifinals</span>
<span class="t" style="left:304.51px;top:648px;transform:scaleX(0.9257);font-size:12.5px;font-weight:bold;-webkit-text-stroke:0.2px">Finals</span>
<span class="t" style="left:485.44px;top:648px;transform:scaleX(0.9567);font-size:12.5px;font-weight:bold;-webkit-text-stroke:0.2px">Champion</span>
<svg class="ic" style="left:0;top:600px;width:620px;height:330px" viewBox="0 600 620 330"><rect x="32" y="613.4" width="579" height="1.6" fill="#2e2e2e"/><g fill="none" stroke="#a6a6a6" stroke-width="1.6"><path d="M32 698.05H223.9V746.2H32"/><path d="M32 794.55H223.9V842.8H32"/><path d="M223.9 722.2H417.1V818.6H223.9"/><path d="M417.1 770.4H610.8"/><path d="M224.9 866.85H417.1V915.1H224.9"/><path d="M417.1 891H610.8"/></g></svg>
<span class="t" style="left:40.85px;top:717px;transform:scaleX(0.9975);font-size:10px;color:#222;-webkit-text-stroke:0.25px">FB1F-M1</span>
<svg class="ic" style="left:190px;top:716.1px;width:10px;height:10px" viewBox="0 0 1536 1536" preserveAspectRatio="none"><path fill="#444" d="M896 416v448q0 14-9 23t-23 9h-320q-14 0-23-9t-9-23v-64q0-14 9-23t23-9h224v-352q0-14 9-23t23-9h64q14 0 23 9t9 23zm416 352q0-148-73-273t-198-198-273-73-273 73-198 198-73 273 73 273 198 198 273 73 273-73 198-198 73-273zm224 0q0 209-103 385.5t-279.5 279.5-385.5 103-385.5-103-279.5-279.5-103-385.5 103-385.5 279.5-279.5 385.5-103 385.5 103 279.5 279.5 103 385.5z"/></svg>
<svg class="ic" style="left:206.2px;top:715.8px;width:10.6px;height:10.6px" viewBox="0 -128 1536 1536" preserveAspectRatio="none"><path fill="#444" d="M1024 640q0-106-75-181t-181-75-181 75-75 181 75 181 181 75 181-75 75-181zm512-109v222q0 12-8 23t-20 13l-185 28q-19 54-39 91 35 50 107 138 10 12 10 25t-9 23q-27 37-99 108t-94 71q-12 0-26-9l-138-108q-44 23-91 38-16 136-29 186-7 28-36 28h-222q-14 0-24.5-8.5t-11.5-21.5l-28-184q-49-16-90-37l-141 107q-10 9-25 9-14 0-25-11-126-114-165-168-7-10-7-23 0-12 8-23 15-21 51-66.5t54-70.5q-27-50-41-99l-183-27q-13-2-21-12.5t-8-23.5v-222q0-12 8-23t19-13l186-28q14-46 39-92-40-57-107-138-10-12-10-24 0-10 9-23 26-36 98.5-107.5t94.5-71.5q13 0 26 10l138 107q44-23 91-38 16-136 29-186 7-28 36-28h222q14 0 24.5 8.5t11.5 21.5l28 184q49 16 90 37l142-107q9-9 24-9 13 0 25 10 129 119 165 170 7 8 7 22 0 12-8 23-15 21-51 66.5t-54 70.5q26 50 41 98l183 28q13 2 21 12.5t8 23.5z"/></svg>
<span class="t" style="left:40.85px;top:814px;transform:scaleX(0.9975);font-size:10px;color:#222;-webkit-text-stroke:0.25px">FB1F-M2</span>
<svg class="ic" style="left:190px;top:812.5px;width:10px;height:10px" viewBox="0 0 1536 1536" preserveAspectRatio="none"><path fill="#444" d="M896 416v448q0 14-9 23t-23 9h-320q-14 0-23-9t-9-23v-64q0-14 9-23t23-9h224v-352q0-14 9-23t23-9h64q14 0 23 9t9 23zm416 352q0-148-73-273t-198-198-273-73-273 73-198 198-73 273 73 273 198 198 273 73 273-73 198-198 73-273zm224 0q0 209-103 385.5t-279.5 279.5-385.5 103-385.5-103-279.5-279.5-103-385.5 103-385.5 279.5-279.5 385.5-103 385.5 103 279.5 279.5 103 385.5z"/></svg>
<svg class="ic" style="left:206.2px;top:812.2px;width:10.6px;height:10.6px" viewBox="0 -128 1536 1536" preserveAspectRatio="none"><path fill="#444" d="M1024 640q0-106-75-181t-181-75-181 75-75 181 75 181 181 75 181-75 75-181zm512-109v222q0 12-8 23t-20 13l-185 28q-19 54-39 91 35 50 107 138 10 12 10 25t-9 23q-27 37-99 108t-94 71q-12 0-26-9l-138-108q-44 23-91 38-16 136-29 186-7 28-36 28h-222q-14 0-24.5-8.5t-11.5-21.5l-28-184q-49-16-90-37l-141 107q-10 9-25 9-14 0-25-11-126-114-165-168-7-10-7-23 0-12 8-23 15-21 51-66.5t54-70.5q-27-50-41-99l-183-27q-13-2-21-12.5t-8-23.5v-222q0-12 8-23t19-13l186-28q14-46 39-92-40-57-107-138-10-12-10-24 0-10 9-23 26-36 98.5-107.5t94.5-71.5q13 0 26 10l138 107q44-23 91-38 16-136 29-186 7-28 36-28h222q14 0 24.5 8.5t11.5 21.5l28 184q49 16 90 37l142-107q9-9 24-9 13 0 25 10 129 119 165 170 7 8 7 22 0 12-8 23-15 21-51 66.5t-54 70.5q26 50 41 98l183 28q13 2 21 12.5t8 23.5z"/></svg>
<span class="t" style="left:233.95px;top:766px;transform:scaleX(0.9945);font-size:10px;color:#222;-webkit-text-stroke:0.25px">FB1F-M3</span>
<svg class="ic" style="left:383.2px;top:764.3px;width:10px;height:10px" viewBox="0 0 1536 1536" preserveAspectRatio="none"><path fill="#444" d="M896 416v448q0 14-9 23t-23 9h-320q-14 0-23-9t-9-23v-64q0-14 9-23t23-9h224v-352q0-14 9-23t23-9h64q14 0 23 9t9 23zm416 352q0-148-73-273t-198-198-273-73-273 73-198 198-73 273 73 273 198 198 273 73 273-73 198-198 73-273zm224 0q0 209-103 385.5t-279.5 279.5-385.5 103-385.5-103-279.5-279.5-103-385.5 103-385.5 279.5-279.5 385.5-103 385.5 103 279.5 279.5 103 385.5z"/></svg>
<svg class="ic" style="left:399.4px;top:764px;width:10.6px;height:10.6px" viewBox="0 -128 1536 1536" preserveAspectRatio="none"><path fill="#444" d="M1024 640q0-106-75-181t-181-75-181 75-75 181 75 181 181 75 181-75 75-181zm512-109v222q0 12-8 23t-20 13l-185 28q-19 54-39 91 35 50 107 138 10 12 10 25t-9 23q-27 37-99 108t-94 71q-12 0-26-9l-138-108q-44 23-91 38-16 136-29 186-7 28-36 28h-222q-14 0-24.5-8.5t-11.5-21.5l-28-184q-49-16-90-37l-141 107q-10 9-25 9-14 0-25-11-126-114-165-168-7-10-7-23 0-12 8-23 15-21 51-66.5t54-70.5q-27-50-41-99l-183-27q-13-2-21-12.5t-8-23.5v-222q0-12 8-23t19-13l186-28q14-46 39-92-40-57-107-138-10-12-10-24 0-10 9-23 26-36 98.5-107.5t94.5-71.5q13 0 26 10l138 107q44-23 91-38 16-136 29-186 7-28 36-28h222q14 0 24.5 8.5t11.5 21.5l28 184q49 16 90 37l142-107q9-9 24-9 13 0 25 10 129 119 165 170 7 8 7 22 0 12-8 23-15 21-51 66.5t-54 70.5q26 50 41 98l183 28q13 2 21 12.5t8 23.5z"/></svg>
<span class="t" style="left:233.95px;top:886px;transform:scaleX(0.9945);font-size:10px;color:#222;-webkit-text-stroke:0.25px">FB1F-M5</span>
<svg class="ic" style="left:383.1px;top:884.8px;width:10px;height:10px" viewBox="0 0 1536 1536" preserveAspectRatio="none"><path fill="#444" d="M896 416v448q0 14-9 23t-23 9h-320q-14 0-23-9t-9-23v-64q0-14 9-23t23-9h224v-352q0-14 9-23t23-9h64q14 0 23 9t9 23zm416 352q0-148-73-273t-198-198-273-73-273 73-198 198-73 273 73 273 198 198 273 73 273-73 198-198 73-273zm224 0q0 209-103 385.5t-279.5 279.5-385.5 103-385.5-103-279.5-279.5-103-385.5 103-385.5 279.5-279.5 385.5-103 385.5 103 279.5 279.5 103 385.5z"/></svg>
<svg class="ic" style="left:399.3px;top:884.5px;width:10.6px;height:10.6px" viewBox="0 -128 1536 1536" preserveAspectRatio="none"><path fill="#444" d="M1024 640q0-106-75-181t-181-75-181 75-75 181 75 181 181 75 181-75 75-181zm512-109v222q0 12-8 23t-20 13l-185 28q-19 54-39 91 35 50 107 138 10 12 10 25t-9 23q-27 37-99 108t-94 71q-12 0-26-9l-138-108q-44 23-91 38-16 136-29 186-7 28-36 28h-222q-14 0-24.5-8.5t-11.5-21.5l-28-184q-49-16-90-37l-141 107q-10 9-25 9-14 0-25-11-126-114-165-168-7-10-7-23 0-12 8-23 15-21 51-66.5t54-70.5q-27-50-41-99l-183-27q-13-2-21-12.5t-8-23.5v-222q0-12 8-23t19-13l186-28q14-46 39-92-40-57-107-138-10-12-10-24 0-10 9-23 26-36 98.5-107.5t94.5-71.5q13 0 26 10l138 107q44-23 91-38 16-136 29-186 7-28 36-28h222q14 0 24.5 8.5t11.5 21.5l28 184q49 16 90 37l142-107q9-9 24-9 13 0 25 10 129 119 165 170 7 8 7 22 0 12-8 23-15 21-51 66.5t-54 70.5q26 50 41 98l183 28q13 2 21 12.5t8 23.5z"/></svg>
<div class="btn" style="left:1136px;top:564px;width:28.6px;height:28.6px;border-color:#d4d4d4;border-radius:1.5px;transform:translate(0,0.3px)"></div>
<div class="btn" style="left:1136px;top:600px;width:28.6px;height:28.6px;border-color:#d4d4d4;border-radius:1.5px;transform:translate(0,0.05px)"></div>
<div class="btn" style="left:1136px;top:635px;width:28.6px;height:28.6px;border-color:#d4d4d4;border-radius:1.5px;transform:translate(0,0.8px)"></div>
<div class="btn" style="left:1136px;top:671px;width:28.6px;height:28.6px;border-color:#d4d4d4;border-radius:1.5px;transform:translate(0,0.55px)"></div>
<div class="btn" style="left:1136px;top:707px;width:28.6px;height:28.6px;border-color:#d4d4d4;border-radius:1.5px;transform:translate(0,0.3px)"></div>
<svg class="ic" style="left:1144.1px;top:571.5px;width:12.7px;height:12.7px" viewBox="0 0 12 12"><path fill="#222" d="M12 0v5L10.2 3.2 7.7 5.7 6.3 4.3 8.8 1.8 7 0zM0 12V7l1.8 1.8 2.5-2.5 1.4 1.4-2.5 2.5L5 12z"/></svg>
<svg class="ic" style="left:1144.3px;top:608.3px;width:13px;height:13px" viewBox="64 128 1664 1664" preserveAspectRatio="none"><path fill="#222" d="M1088 800v64q0 13-9.5 22.5t-22.5 9.5h-224v224q0 13-9.5 22.5t-22.5 9.5h-64q-13 0-22.5-9.5t-9.5-22.5v-224h-224q-13 0-22.5-9.5t-9.5-22.5v-64q0-13 9.5-22.5t22.5-9.5h224v-224q0-13 9.5-22.5t22.5-9.5h64q13 0 22.5 9.5t9.5 22.5v224h224q13 0 22.5 9.5t9.5 22.5zm128 32q0-185-131.5-316.5t-316.5-131.5-316.5 131.5-131.5 316.5 131.5 316.5 316.5 131.5 316.5-131.5 131.5-316.5zm512 832q0 53-37.5 90.5t-90.5 37.5q-54 0-90-38l-343-342q-179 124-399 124-143 0-273.5-55.5t-225-150-150-225-55.5-273.5 55.5-273.5 150-225 225-150 273.5-55.5 273.5 55.5 225 150 150 225 55.5 273.5q0 220-124 399l343 343q37 37 37 90z"/></svg>
<svg class="ic" style="left:1144.3px;top:644px;width:13px;height:13px" viewBox="64 128 1664 1664" preserveAspectRatio="none"><path fill="#222" d="M1088 800v64q0 13-9.5 22.5t-22.5 9.5h-576q-13 0-22.5-9.5t-9.5-22.5v-64q0-13 9.5-22.5t22.5-9.5h576q13 0 22.5 9.5t9.5 22.5zm128 32q0-185-131.5-316.5t-316.5-131.5-316.5 131.5-131.5 316.5 131.5 316.5 316.5 131.5 316.5-131.5 131.5-316.5zm512 832q0 53-37.5 90.5t-90.5 37.5q-54 0-90-38l-343-342q-179 124-399 124-143 0-273.5-55.5t-225-150-150-225-55.5-273.5 55.5-273.5 150-225 225-150 273.5-55.5 273.5 55.5 225 150 150 225 55.5 273.5q0 220-124 399l343 343q37 37 37 90z"/></svg>
<svg class="ic" style="left:1144px;top:680px;width:13px;height:12.4px" viewBox="0 0 1664 1536" preserveAspectRatio="none"><path fill="#222" d="M384 1408h896v-256h-896v256zm0-640h896v-384h-160q-40 0-68-28t-28-68v-160h-640v640zm1152 64q0-26-19-45t-45-19-45 19-19 45 19 45 45 19 45-19 19-45zm128 0v416q0 13-9.5 22.5t-22.5 9.5h-224v160q0 40-28 68t-68 28h-960q-40 0-68-28t-28-68v-160h-224q-13 0-22.5-9.5t-9.5-22.5v-416q0-79 56.5-135.5t135.5-56.5h64v-544q0-40 28-68t68-28h672q40 0 88 20t76 48l152 152q28 28 48 76t20 88v256h64q79 0 135.5 56.5t56.5 135.5z"/></svg>
<svg class="ic" style="left:1144px;top:716.5px;width:13.5px;height:10.5px" viewBox="0 0 16 12" preserveAspectRatio="none"><path fill="#222" fill-rule="evenodd" d="M1.4 0h13.2A1.4 1.4 0 0 1 16 1.4v9.2a1.4 1.4 0 0 1-1.4 1.4H1.4A1.4 1.4 0 0 1 0 10.6V1.4A1.4 1.4 0 0 1 1.4 0zM1.2 3v7.4a.4.4 0 0 0 .4.4h12.8a.4.4 0 0 0 .4-.4V3z"/><rect fill="#222" x="2.4" y="4.1" width="1.3" height="1.2"/><rect fill="#222" x="4.8" y="4.1" width="8.8" height="1.2"/><rect fill="#222" x="2.4" y="6.3" width="1.3" height="1.2"/><rect fill="#222" x="4.8" y="6.3" width="8.8" height="1.2"/><rect fill="#222" x="2.4" y="8.5" width="1.3" height="1.2"/><rect fill="#222" x="4.8" y="8.5" width="8.8" height="1.2"/></svg>
</body></html>
